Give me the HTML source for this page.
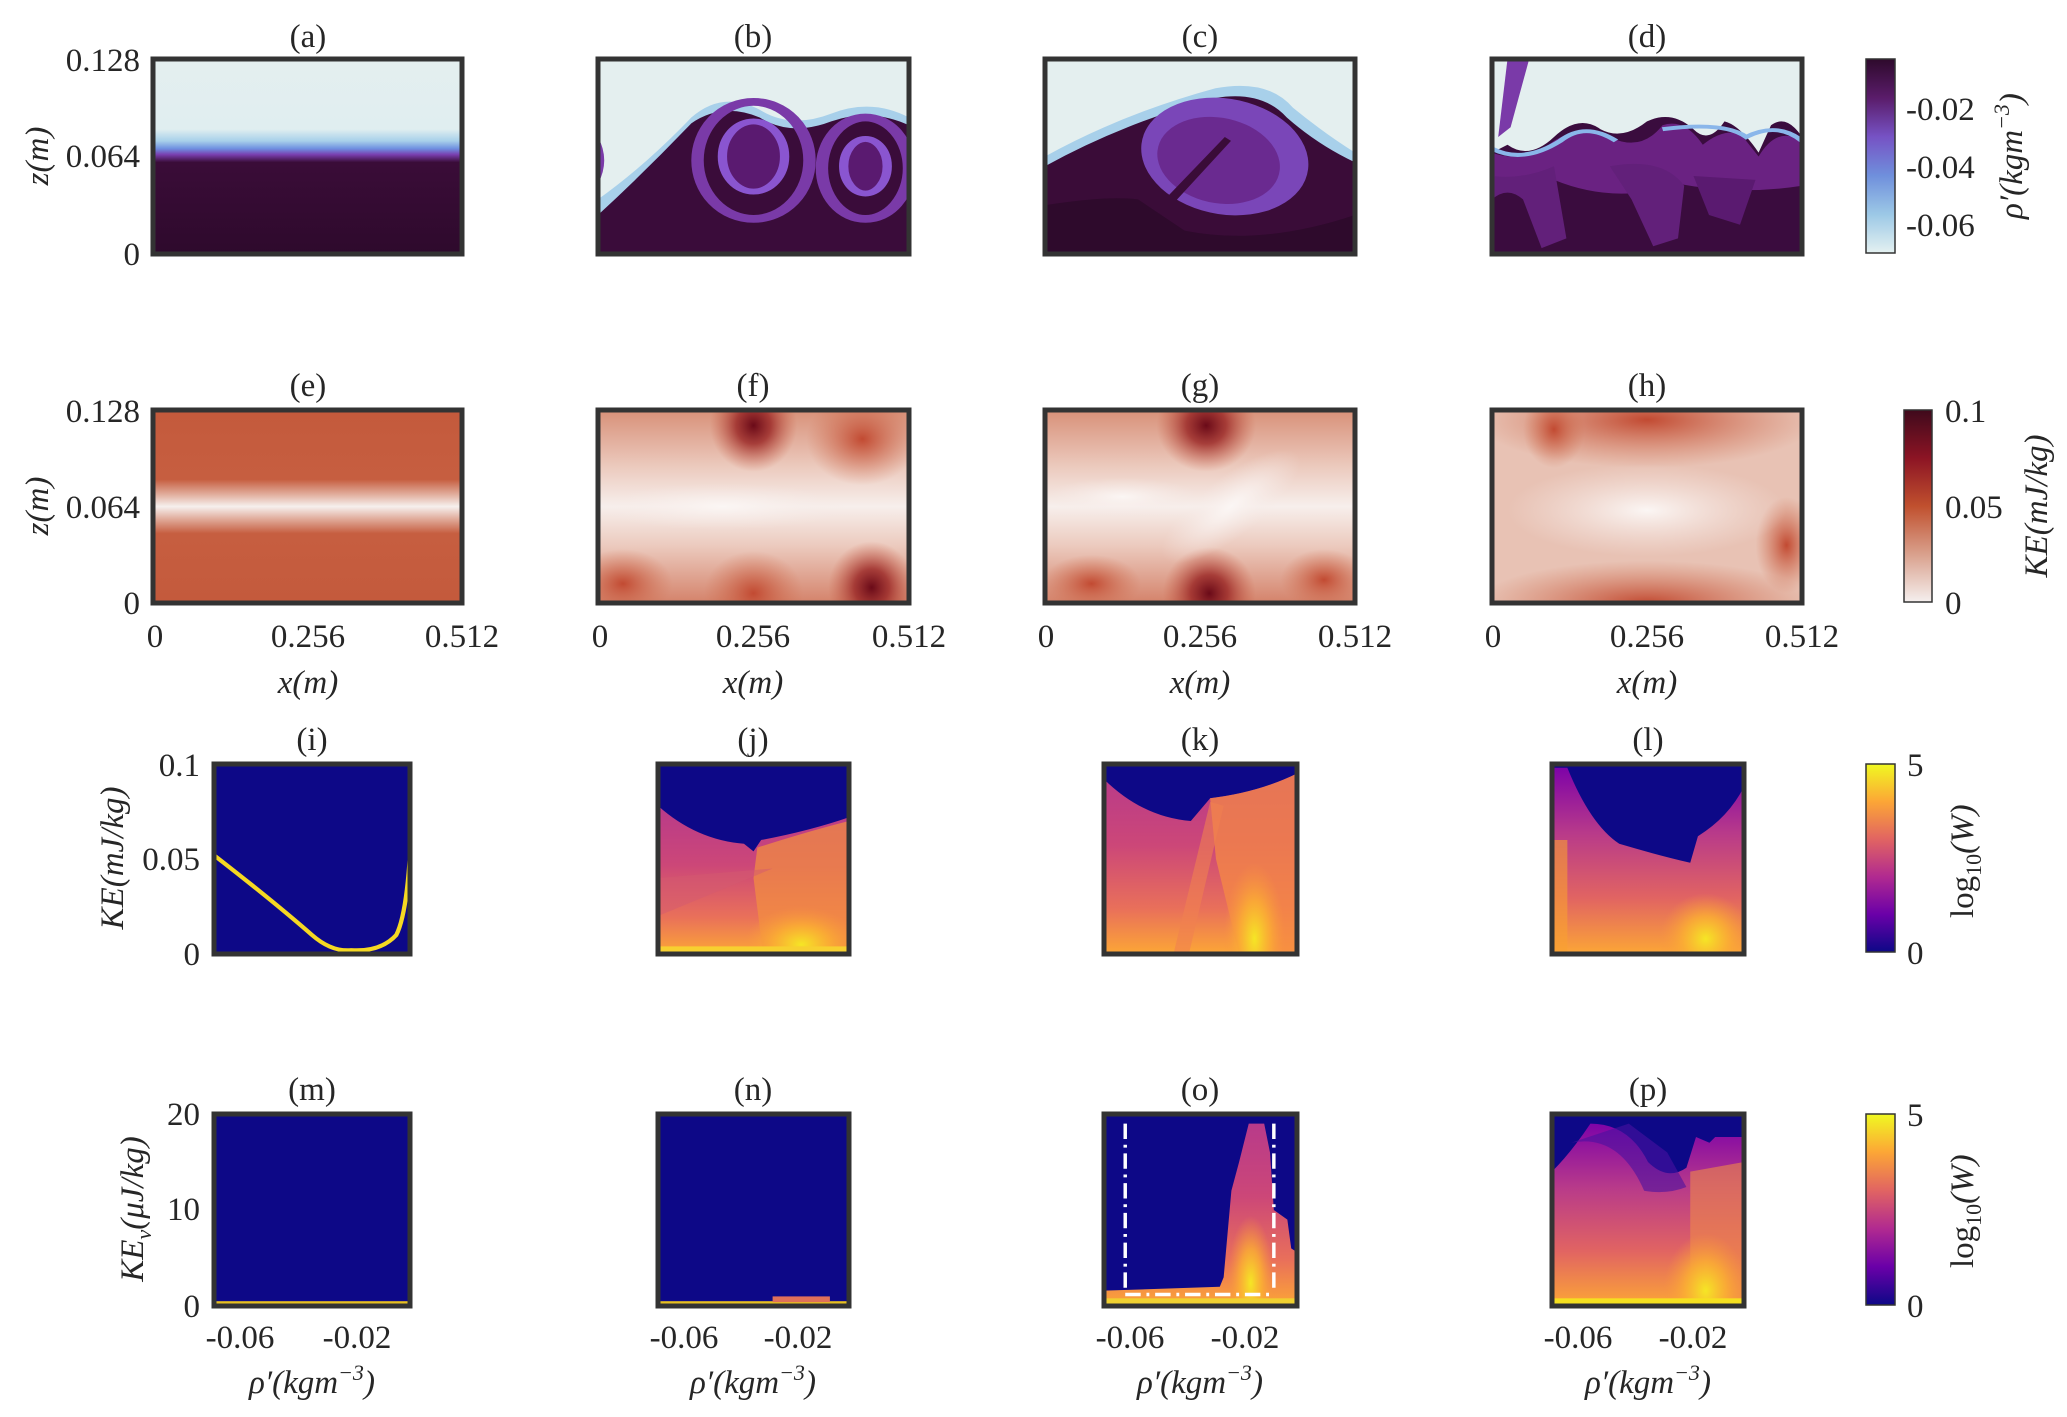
<!DOCTYPE html>
<html><head><meta charset="utf-8"><style>
html,body{margin:0;padding:0;background:#fff;}
svg{display:block;}
text{font-family:"Liberation Serif",serif;fill:#262626;}
.t{font-size:33px;}
.ti{font-size:33px;font-style:italic;}
</style></head><body>
<svg width="2067" height="1417" viewBox="0 0 2067 1417" xmlns="http://www.w3.org/2000/svg">
<defs>
<linearGradient id="rhoA" x1="0" y1="0" x2="0" y2="1">
<stop offset="0" stop-color="#e4efef"/><stop offset="0.36" stop-color="#e0eef0"/><stop offset="0.42" stop-color="#a8d0ea"/><stop offset="0.46" stop-color="#6e8fe0"/><stop offset="0.49" stop-color="#7a3fb0"/><stop offset="0.53" stop-color="#3a0c38"/><stop offset="1" stop-color="#2e0a2c"/></linearGradient>
<linearGradient id="cb1" x1="0" y1="0" x2="0" y2="1">
<stop offset="0" stop-color="#2e0a2c"/><stop offset="0.2" stop-color="#5a1c6a"/><stop offset="0.4" stop-color="#7652c4"/><stop offset="0.6" stop-color="#6f8fdc"/><stop offset="0.8" stop-color="#9cc8e6"/><stop offset="1" stop-color="#e4f1f1"/></linearGradient>
<linearGradient id="cb2" x1="0" y1="0" x2="0" y2="1">
<stop offset="0" stop-color="#3f0a1c"/><stop offset="0.25" stop-color="#8c1424"/><stop offset="0.5" stop-color="#c0502e"/><stop offset="0.75" stop-color="#d9a08c"/><stop offset="1" stop-color="#f5efee"/></linearGradient>
<linearGradient id="cbp" x1="0" y1="0" x2="0" y2="1">
<stop offset="0" stop-color="#f0f921"/><stop offset="0.2" stop-color="#fca636"/><stop offset="0.4" stop-color="#e16462"/><stop offset="0.6" stop-color="#b12a90"/><stop offset="0.8" stop-color="#6a00a8"/><stop offset="1" stop-color="#0d0887"/></linearGradient>
<linearGradient id="keE" x1="0" y1="0" x2="0" y2="1">
<stop offset="0" stop-color="#c45a3c"/><stop offset="0.36" stop-color="#c65e40"/><stop offset="0.44" stop-color="#e2b0a0"/><stop offset="0.5" stop-color="#f6f0ee"/><stop offset="0.56" stop-color="#e2b0a0"/><stop offset="0.64" stop-color="#c65e40"/><stop offset="1" stop-color="#c45a3c"/></linearGradient>
<linearGradient id="keF" x1="0" y1="0" x2="0" y2="1">
<stop offset="0" stop-color="#d89078"/><stop offset="0.3" stop-color="#eccbbf"/><stop offset="0.5" stop-color="#f7efec"/><stop offset="0.7" stop-color="#eccbbf"/><stop offset="1" stop-color="#d4826a"/></linearGradient>
<radialGradient id="red"><stop offset="0" stop-color="#6a0a18"/><stop offset="0.4" stop-color="#9c2a28" stop-opacity="0.85"/><stop offset="1" stop-color="#c85a40" stop-opacity="0"/></radialGradient>
<radialGradient id="redl"><stop offset="0" stop-color="#c24a32"/><stop offset="1" stop-color="#d07050" stop-opacity="0"/></radialGradient>
<radialGradient id="wht"><stop offset="0" stop-color="#fbf6f4"/><stop offset="1" stop-color="#f5e8e4" stop-opacity="0"/></radialGradient>
<linearGradient id="pl" x1="0" y1="0" x2="0" y2="1">
<stop offset="0" stop-color="#b83a8a"/><stop offset="0.4" stop-color="#cc4778"/><stop offset="0.75" stop-color="#e9705a"/><stop offset="1" stop-color="#fca636"/></linearGradient>
<linearGradient id="pl2" x1="0" y1="0" x2="0" y2="1">
<stop offset="0" stop-color="#7e03a8"/><stop offset="0.35" stop-color="#b83a8a"/><stop offset="0.7" stop-color="#e16462"/><stop offset="1" stop-color="#fca636"/></linearGradient>
<radialGradient id="yel"><stop offset="0" stop-color="#f5e625"/><stop offset="0.5" stop-color="#fbb032" stop-opacity="0.8"/><stop offset="1" stop-color="#f89540" stop-opacity="0"/></radialGradient>
</defs>

<!-- Row 1 -->
<svg x="153" y="59" width="309" height="195" viewBox="0 0 100 100" preserveAspectRatio="none"><rect width="100" height="100" fill="url(#rhoA)"/></svg>
<svg x="598" y="59" width="311" height="195" viewBox="0 0 100 100" preserveAspectRatio="none">
<rect width="100" height="100" fill="#e4efef"/>
<path d="M0,72 Q15,55 30,30 Q40,16 52,26 Q62,36 75,28 Q88,20 100,30 L100,100 L0,100Z" fill="#a8d0ea"/>
<path d="M0,80 Q15,58 30,33 Q40,22 52,30 Q62,40 75,32 Q88,25 100,34 L100,100 L0,100Z" fill="#3a0c3a"/>
<ellipse cx="50" cy="52" rx="18" ry="30" fill="none" stroke="#7a3aa8" stroke-width="4"/>
<ellipse cx="50" cy="50" rx="10" ry="18" fill="#5a1a70" stroke="#8a55d0" stroke-width="3"/>
<ellipse cx="86" cy="56" rx="14" ry="26" fill="none" stroke="#7a3aa8" stroke-width="4"/>
<ellipse cx="86" cy="55" rx="7" ry="14" fill="#5a1a70" stroke="#8a55d0" stroke-width="3"/>
<path d="M0,40 Q4,52 0,64Z" fill="#7a3aa8"/>
</svg>
<svg x="1045" y="59" width="310" height="195" viewBox="0 0 100 100" preserveAspectRatio="none">
<rect width="100" height="100" fill="#e4efef"/>
<path d="M0,50 Q25,28 55,15 Q72,10 80,25 Q90,38 100,48 L100,100 L0,100Z" fill="#a8d0ea"/>
<path d="M0,55 Q25,33 55,20 Q70,16 78,30 Q88,44 100,53 L100,100 L0,100Z" fill="#3a0c38"/>
<ellipse cx="58" cy="50" rx="26" ry="31" transform="rotate(-25 58 50)" fill="#7a46b8"/>
<ellipse cx="56" cy="52" rx="19" ry="23" transform="rotate(-25 56 52)" fill="#6a2a90"/>
<path d="M35,78 L58,40 L60,42 L38,80Z" fill="#3a0c38"/>
<path d="M0,96 L0,75 Q20,70 30,72 L45,88 Q70,96 100,80 L100,100 L0,100Z" fill="#2e0a2c"/>
</svg>
<svg x="1492" y="59" width="310" height="195" viewBox="0 0 100 100" preserveAspectRatio="none">
<rect width="100" height="100" fill="#3a0c3e"/>
<path d="M0,0 L100,0 L100,40 Q95,28 90,34 L86,48 Q80,34 75,32 Q70,44 65,36 Q58,26 50,32 Q42,42 35,36 Q28,28 20,40 Q12,52 5,44 L0,48Z" fill="#e4efef"/>
<path d="M0,48 Q10,54 20,42 Q30,32 38,40 Q48,48 55,34 Q62,30 68,44 Q74,36 80,38 L86,50 Q92,34 100,42 L100,65 Q80,70 60,64 Q40,75 20,62 Q10,70 0,68Z" fill="#6a2282"/>
<path d="M0,60 Q10,62 20,55 L24,92 L16,97 L10,72 Q5,65 0,72Z" fill="#62207a"/>
<path d="M38,55 Q55,50 62,65 L60,92 L52,96 L45,72Z" fill="#62207a"/>
<path d="M65,60 L85,62 L80,85 L70,80Z" fill="#5a1a70"/>
<path d="M5,0 L12,0 L6,35 L2,40Z" fill="#7a3aa8"/>
<path d="M0,46 Q10,54 22,42 Q30,32 40,42" stroke="#8ab6ea" stroke-width="2" fill="none"/>
<path d="M55,36 Q75,32 82,40 Q92,32 100,42" stroke="#8ab6ea" stroke-width="2" fill="none"/>
</svg>

<!-- Row 2 -->
<svg x="153" y="410" width="309" height="193" viewBox="0 0 100 100" preserveAspectRatio="none"><rect width="100" height="100" fill="url(#keE)"/></svg>
<svg x="598" y="410" width="311" height="193" viewBox="0 0 100 100" preserveAspectRatio="none">
<rect width="100" height="100" fill="url(#keF)"/>
<ellipse cx="85" cy="15" rx="18" ry="24" fill="url(#redl)"/>
<ellipse cx="8" cy="90" rx="16" ry="18" fill="url(#redl)"/>
<ellipse cx="50" cy="8" rx="14" ry="24" fill="url(#red)"/>
<ellipse cx="50" cy="95" rx="16" ry="22" fill="url(#redl)"/>
<ellipse cx="88" cy="92" rx="14" ry="24" fill="url(#red)"/>
<ellipse cx="40" cy="50" rx="40" ry="12" fill="url(#wht)"/>
</svg>
<svg x="1045" y="410" width="310" height="193" viewBox="0 0 100 100" preserveAspectRatio="none">
<rect width="100" height="100" fill="url(#keF)"/>
<ellipse cx="52" cy="8" rx="16" ry="24" fill="url(#red)"/>
<ellipse cx="53" cy="95" rx="15" ry="24" fill="url(#red)"/>
<ellipse cx="15" cy="90" rx="16" ry="15" fill="url(#redl)"/>
<ellipse cx="90" cy="88" rx="14" ry="16" fill="url(#redl)"/>
<ellipse cx="60" cy="50" rx="12" ry="35" transform="rotate(35 60 50)" fill="url(#wht)"/>
<ellipse cx="25" cy="45" rx="25" ry="10" fill="url(#wht)"/>
</svg>
<svg x="1492" y="410" width="310" height="193" viewBox="0 0 100 100" preserveAspectRatio="none">
<rect width="100" height="100" fill="#e8c2b4"/>
<ellipse cx="50" cy="5" rx="55" ry="25" fill="url(#redl)"/>
<ellipse cx="20" cy="10" rx="10" ry="20" fill="url(#redl)"/>
<ellipse cx="50" cy="100" rx="55" ry="22" fill="url(#redl)"/>
<ellipse cx="95" cy="70" rx="10" ry="25" fill="url(#redl)"/>
<ellipse cx="50" cy="52" rx="45" ry="24" fill="url(#wht)"/>
</svg>

<!-- Row 3 -->
<svg x="214" y="764" width="196" height="190" viewBox="0 0 100 100" preserveAspectRatio="none">
<rect width="100" height="100" fill="#0d0887"/>
<path d="M0,48 Q30,72 50,90 Q60,99 70,98 Q85,99 93,90 Q98,80 100,48" stroke="#f5d822" stroke-width="2.2" fill="none"/>
</svg>
<svg x="658" y="764" width="191" height="190" viewBox="0 0 100 100" preserveAspectRatio="none">
<rect width="100" height="100" fill="#0d0887"/>
<path d="M0,22 Q20,40 45,42 L50,46 L54,40 Q80,35 100,28 L100,100 L0,100Z" fill="url(#pl)"/>
<path d="M52,44 Q80,35 100,30 L100,100 L55,100 L50,60Z" fill="#f4903f" opacity="0.7"/>
<path d="M0,60 L60,55 L0,80Z" fill="#d45a70" opacity="0.5"/>
<ellipse cx="75" cy="95" rx="30" ry="20" fill="url(#yel)"/>
<rect x="0" y="96" width="100" height="4" fill="#f7d030"/>
</svg>
<svg x="1104" y="764" width="193" height="190" viewBox="0 0 100 100" preserveAspectRatio="none">
<rect width="100" height="100" fill="#0d0887"/>
<path d="M0,8 Q20,28 45,30 L55,18 Q80,15 100,5 L100,100 L0,100Z" fill="url(#pl)"/>
<path d="M55,18 Q80,15 100,5 L100,100 L70,100 L58,50Z" fill="#f58a44" opacity="0.75"/>
<path d="M55,20 L62,22 L44,100 L36,100Z" fill="#f08050" opacity="0.6"/>
<ellipse cx="78" cy="92" rx="16" ry="40" fill="url(#yel)"/>
</svg>
<svg x="1552" y="764" width="192" height="190" viewBox="0 0 100 100" preserveAspectRatio="none">
<rect width="100" height="100" fill="#0d0887"/>
<path d="M0,2 L8,2 Q20,32 35,42 Q55,48 72,52 L76,38 Q92,28 100,12 L100,100 L0,100Z" fill="url(#pl2)"/>
<path d="M0,40 L8,40 L8,100 L0,100Z" fill="#f8a030" opacity="0.6"/>
<ellipse cx="80" cy="92" rx="24" ry="24" fill="url(#yel)"/>
</svg>

<!-- Row 4 -->
<svg x="214" y="1114" width="196" height="192" viewBox="0 0 100 100" preserveAspectRatio="none">
<rect width="100" height="100" fill="#0d0887"/><rect y="97.5" width="100" height="1.5" fill="#e8c020"/>
</svg>
<svg x="658" y="1114" width="191" height="192" viewBox="0 0 100 100" preserveAspectRatio="none">
<rect width="100" height="100" fill="#0d0887"/><rect y="97.5" width="100" height="1.5" fill="#e8c020"/><rect x="60" y="95" width="30" height="3" fill="#e0705a"/>
</svg>
<svg x="1104" y="1114" width="193" height="192" viewBox="0 0 100 100" preserveAspectRatio="none">
<rect width="100" height="100" fill="#0d0887"/>
<path d="M0,92 L60,90 L62,85 L66,40 L70,25 L75,5 L83,5 L86,20 L88,50 L95,55 L97,70 L100,72 L100,100 L0,100Z" fill="url(#pl)"/>
<ellipse cx="76" cy="88" rx="12" ry="35" fill="url(#yel)"/>
<rect y="96" width="100" height="4" fill="#f0d030"/>
<g stroke="#fff" stroke-width="1.8" fill="none" stroke-dasharray="8,3,1.5,3">
<path d="M11,5 L11,92"/><path d="M88,5 L88,92"/><path d="M11,94 L88,94"/></g>
</svg>
<svg x="1552" y="1114" width="192" height="192" viewBox="0 0 100 100" preserveAspectRatio="none">
<rect width="100" height="100" fill="#0d0887"/>
<path d="M0,30 Q10,20 20,5 Q40,5 50,25 Q60,35 70,28 L75,12 L82,15 L85,12 L100,12 L100,100 L0,100Z" fill="url(#pl2)"/>
<path d="M10,15 Q35,10 48,40 Q60,42 70,38 L60,20 L40,5Z" fill="#4a10a0" opacity="0.6"/>
<path d="M72,30 L100,25 L100,100 L72,100Z" fill="#f08a48" opacity="0.6"/>
<ellipse cx="80" cy="92" rx="22" ry="30" fill="url(#yel)"/>
<rect y="96" width="100" height="4" fill="#f5e020"/>
</svg>

<!-- Frames -->
<g fill="none" stroke="#333" stroke-width="5">
<rect x="153" y="59" width="309" height="195"/><rect x="598" y="59" width="311" height="195"/><rect x="1045" y="59" width="310" height="195"/><rect x="1492" y="59" width="310" height="195"/>
<rect x="153" y="410" width="309" height="193"/><rect x="598" y="410" width="311" height="193"/><rect x="1045" y="410" width="310" height="193"/><rect x="1492" y="410" width="310" height="193"/>
<rect x="214" y="764" width="196" height="190"/><rect x="658" y="764" width="191" height="190"/><rect x="1104" y="764" width="193" height="190"/><rect x="1552" y="764" width="192" height="190"/>
<rect x="214" y="1114" width="196" height="192"/><rect x="658" y="1114" width="191" height="192"/><rect x="1104" y="1114" width="193" height="192"/><rect x="1552" y="1114" width="192" height="192"/>
</g>
<g fill="none" stroke="#333" stroke-width="1.5">
<rect x="1866" y="59" width="29" height="194" fill="url(#cb1)"/>
<rect x="1904" y="410" width="28" height="192" fill="url(#cb2)"/>
<rect x="1866" y="764" width="29" height="188" fill="url(#cbp)"/>
<rect x="1866" y="1114" width="29" height="191" fill="url(#cbp)"/>
</g>

<!-- Tick labels -->
<g class="t" text-anchor="end">
<text x="140" y="71">0.128</text><text x="140" y="167">0.064</text><text x="140" y="265">0</text>
<text x="140" y="422">0.128</text><text x="140" y="518">0.064</text><text x="140" y="614">0</text>
<text x="200" y="776">0.1</text><text x="200" y="870">0.05</text><text x="200" y="965">0</text>
<text x="200" y="1125">20</text><text x="200" y="1220">10</text><text x="200" y="1317">0</text>
</g>
<g class="t" text-anchor="middle">
<text x="308" y="47">(a)</text><text x="753" y="47">(b)</text><text x="1200" y="47">(c)</text><text x="1647" y="47">(d)</text>
<text x="308" y="396">(e)</text><text x="753" y="396">(f)</text><text x="1200" y="396">(g)</text><text x="1647" y="396">(h)</text>
<text x="312" y="750">(i)</text><text x="753" y="750">(j)</text><text x="1200" y="750">(k)</text><text x="1648" y="750">(l)</text>
<text x="312" y="1100">(m)</text><text x="753" y="1100">(n)</text><text x="1200" y="1100">(o)</text><text x="1648" y="1100">(p)</text>
<text x="155" y="647">0</text><text x="308" y="647">0.256</text><text x="462" y="647">0.512</text>
<text x="600" y="647">0</text><text x="753" y="647">0.256</text><text x="909" y="647">0.512</text>
<text x="1046" y="647">0</text><text x="1200" y="647">0.256</text><text x="1355" y="647">0.512</text>
<text x="1493" y="647">0</text><text x="1647" y="647">0.256</text><text x="1802" y="647">0.512</text>
<text x="240" y="1348">-0.06</text><text x="357" y="1348">-0.02</text>
<text x="684" y="1348">-0.06</text><text x="798" y="1348">-0.02</text>
<text x="1130" y="1348">-0.06</text><text x="1245" y="1348">-0.02</text>
<text x="1578" y="1348">-0.06</text><text x="1693" y="1348">-0.02</text>
</g>
<g class="ti" text-anchor="middle">
<text x="308" y="693">x(m)</text><text x="753" y="693">x(m)</text><text x="1200" y="693">x(m)</text><text x="1647" y="693">x(m)</text>
<text x="312" y="1393">ρ′(kgm<tspan font-size="22" dy="-13">−3</tspan><tspan dy="13">)</tspan></text>
<text x="753" y="1393">ρ′(kgm<tspan font-size="22" dy="-13">−3</tspan><tspan dy="13">)</tspan></text>
<text x="1200" y="1393">ρ′(kgm<tspan font-size="22" dy="-13">−3</tspan><tspan dy="13">)</tspan></text>
<text x="1648" y="1393">ρ′(kgm<tspan font-size="22" dy="-13">−3</tspan><tspan dy="13">)</tspan></text>
<text transform="translate(48,156) rotate(-90)">z(m)</text>
<text transform="translate(48,506) rotate(-90)">z(m)</text>
<text transform="translate(123,858) rotate(-90)">KE(mJ/kg)</text>
<text transform="translate(143,1209) rotate(-90)">KE<tspan font-size="22" dy="8">v</tspan><tspan dy="-8">(μJ/kg)</tspan></text>
<text transform="translate(2022,156) rotate(-90)">ρ′(kgm<tspan font-size="22" dy="-13">−3</tspan><tspan dy="13">)</tspan></text>
<text transform="translate(2047,506) rotate(-90)">KE(mJ/kg)</text>
</g>
<g class="t">
<text x="1906" y="120">-0.02</text><text x="1906" y="178">-0.04</text><text x="1906" y="236">-0.06</text>
<text x="1945" y="422">0.1</text><text x="1945" y="518">0.05</text><text x="1945" y="614">0</text>
<text x="1907" y="776">5</text><text x="1907" y="964">0</text>
<text x="1907" y="1126">5</text><text x="1907" y="1317">0</text>
<text transform="translate(1973,918) rotate(-90)">log<tspan font-size="22" dy="8">10</tspan><tspan dy="-8" font-style="italic">(W)</tspan></text>
<text transform="translate(1973,1268) rotate(-90)">log<tspan font-size="22" dy="8">10</tspan><tspan dy="-8" font-style="italic">(W)</tspan></text>
</g>
</svg>
</body></html>
